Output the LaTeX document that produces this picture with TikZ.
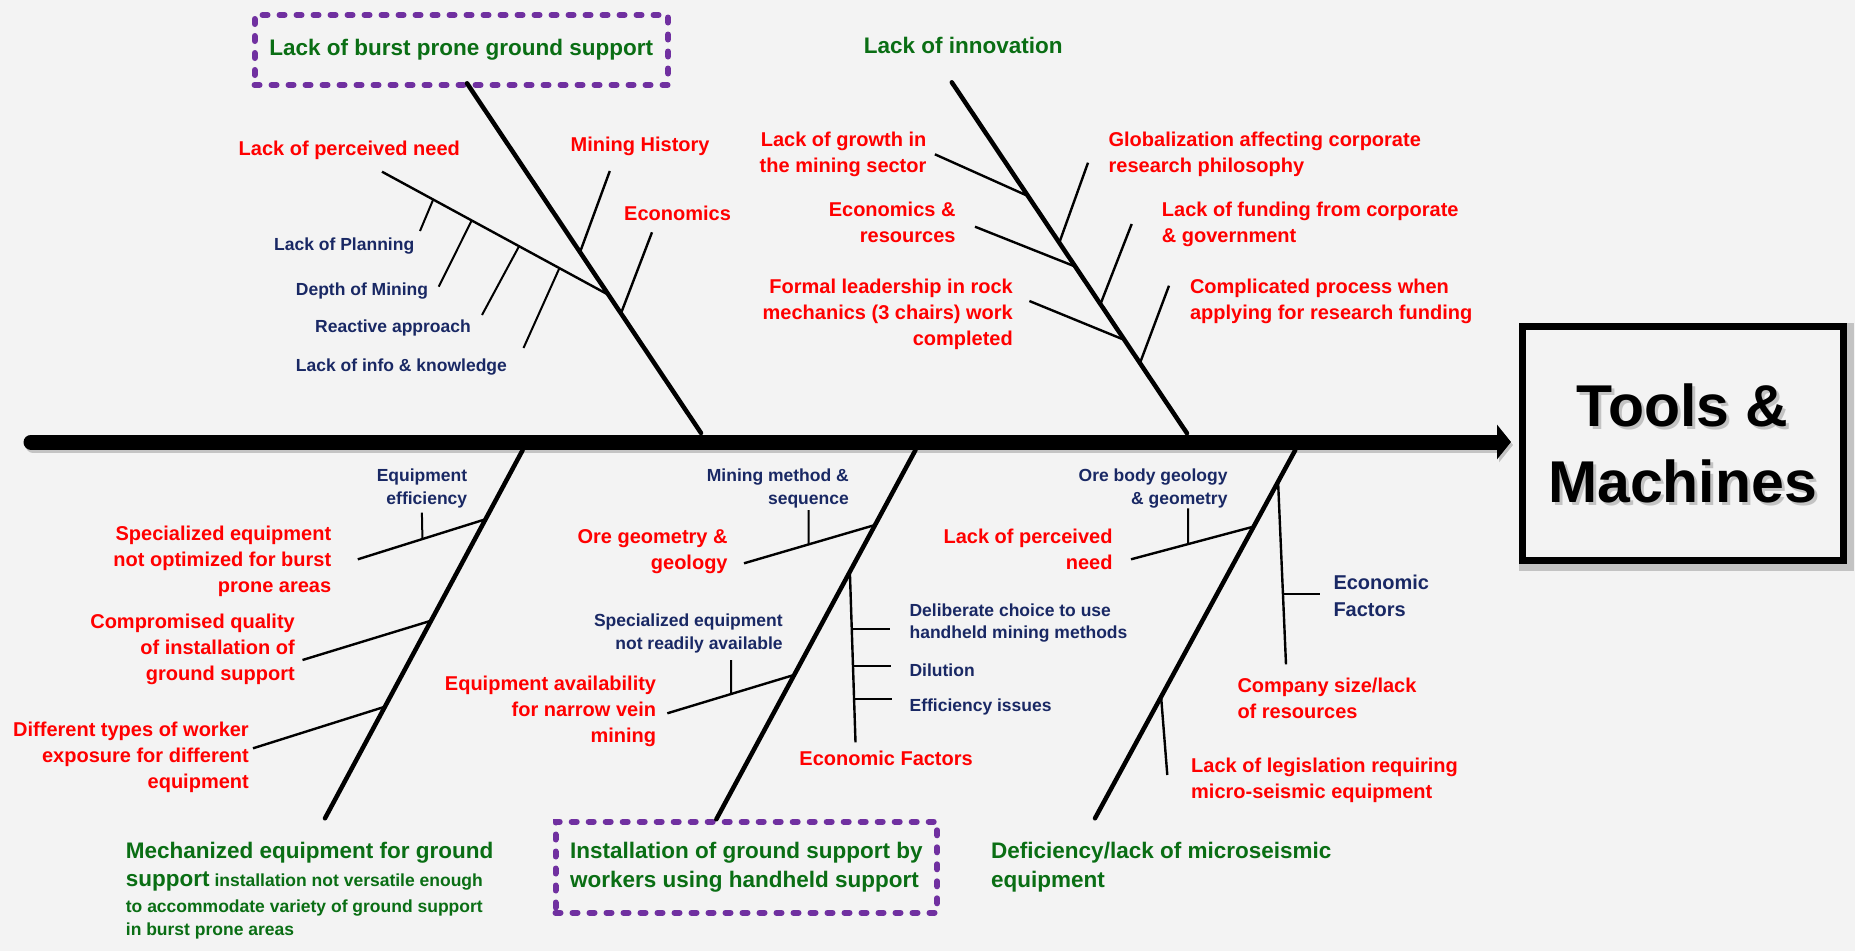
\documentclass[tikz,border=0pt]{standalone}
\usepackage{fontspec}
\setmainfont{Liberation Sans}
\usetikzlibrary{arrows.meta,calc}
\definecolor{bgc}{RGB}{243,243,243}
\definecolor{causered}{RGB}{255,0,0}
\definecolor{causegreen}{RGB}{10,110,20}
\definecolor{causenavy}{RGB}{25,40,100}
\definecolor{boxpurple}{RGB}{112,48,160}
\definecolor{shadowgray}{RGB}{195,195,195}
\pgfdeclarelayer{backdrop}
\pgfdeclarelayer{shade}
\pgfsetlayers{backdrop,shade,main}

\begin{document}
% multi-line labels are placed by the baseline of their last line
\begin{tikzpicture}[x=1pt,y=-1pt,
  redlbl/.style={text=causered, font=\fontsize{20}{26}\selectfont\bfseries, inner sep=0pt},
  navylbl/.style={text=causenavy, font=\fontsize{17.5}{22.3}\selectfont\bfseries, inner sep=0pt},
  navybig/.style={text=causenavy, font=\fontsize{20}{26.7}\selectfont\bfseries, inner sep=0pt},
  greenlbl/.style={text=causegreen, font=\fontsize{22.5}{29.3}\selectfont\bfseries, inner sep=0pt},
  rlbl/.style={align=right, anchor=base east},
  llbl/.style={align=left, anchor=base west},
  mainbone/.style={line width=4.5pt, line cap=round},
  subbone/.style={line width=2.4pt},
  twig/.style={line width=2pt},
  dashbox/.style={draw=boxpurple, line width=6pt, dash pattern=on 5pt off 12pt, line cap=round, inner sep=0pt},
  spine/.style={line width=15pt, line cap=round, -{Triangle[length=14pt,width=34pt]}},
  effectfont/.style={font=\fontsize{59}{76}\selectfont\bfseries, align=center},
]
\begin{pgfonlayer}{backdrop}
  \fill[bgc] (0,0) rectangle (1855,951);
\end{pgfonlayer}
\useasboundingbox (0,0) rectangle (1855,951);

% ---------- upper bone: ground support ----------
\node[dashbox, greenlbl, minimum width=413.5pt, minimum height=70pt] (head1) at (461.3,50) {Lack of burst prone ground support};
\coordinate (b1t) at (467,83.3);
\coordinate (b1b) at (701,433);
\draw[mainbone] (b1t) -- (b1b);

\node[redlbl, llbl] (lpn) at (238.5,155) {Lack of perceived need};
\coordinate (lpnS) at (382,171.7);
\coordinate (lpnE) at ($(b1t)!0.605!(b1b)$);
\draw[subbone] (lpnS) -- (lpnE);

\node[navylbl, llbl] (plan) at (274,250.7) {Lack of Planning};
\node[navylbl, llbl] (depth) at (295.7,295) {Depth of Mining};
\node[navylbl, llbl] (react) at (315,332.7) {Reactive approach};
\node[navylbl, llbl] (info) at (295.7,371.7) {Lack of info \& knowledge};
\coordinate (planT) at (420,231);
\coordinate (depthT) at (438.7,286.7);
\coordinate (reactT) at (482,315);
\coordinate (infoT) at (523.5,348);
\draw[twig] ($(lpnS)!0.226!(lpnE)$) -- (planT);
\draw[twig] ($(lpnS)!0.396!(lpnE)$) -- (depthT);
\draw[twig] ($(lpnS)!0.605!(lpnE)$) -- (reactT);
\draw[twig] ($(lpnS)!0.783!(lpnE)$) -- (infoT);

\node[redlbl, llbl] (hist) at (570.5,151.7) {Mining History};
\node[redlbl, llbl] (econ1) at (624,220.7) {Economics};
\coordinate (histT) at (609.8,171);
\coordinate (econ1T) at (652,232.3);
\draw[subbone] (histT) -- ($(b1t)!0.483!(b1b)$);
\draw[subbone] (econ1T) -- ($(b1t)!0.658!(b1b)$);

% ---------- upper bone: innovation ----------
\node[greenlbl, llbl] (head2) at (863.6,53.3) {Lack of innovation};
\coordinate (b2t) at (951.8,82.3);
\coordinate (b2b) at (1187,433.3);
\draw[mainbone] (b2t) -- (b2b);

\node[redlbl, rlbl] (growth) at (926.6,172.7) {Lack of growth in\\the mining sector};
\node[redlbl, rlbl] (econres) at (955.7,242.7) {Economics \&\\resources};
\node[redlbl, rlbl] (formal) at (1013,345.3) {Formal leadership in rock\\mechanics (3 chairs) work\\completed};
\coordinate (growthT) at (934.9,154.3);
\coordinate (econresT) at (975,226.7);
\coordinate (formalT) at (1029.4,301);
\draw[subbone] (growthT) -- ($(b2t)!0.324!(b2b)$);
\draw[subbone] (econresT) -- ($(b2t)!0.525!(b2b)$);
\draw[subbone] (formalT) -- ($(b2t)!0.734!(b2b)$);

\node[redlbl, llbl] (glob) at (1108.4,172.7) {Globalization affecting corporate\\research philosophy};
\node[redlbl, llbl] (fund) at (1161.7,242.7) {Lack of funding from corporate\\\& government};
\node[redlbl, llbl] (compl) at (1189.8,319.3) {Complicated process when\\applying for research funding};
\coordinate (globT) at (1088,162.7);
\coordinate (fundT) at (1131.7,224);
\coordinate (complT) at (1169,285.7);
\draw[subbone] (globT) -- ($(b2t)!0.457!(b2b)$);
\draw[subbone] (fundT) -- ($(b2t)!0.632!(b2b)$);
\draw[subbone] (complT) -- ($(b2t)!0.8!(b2b)$);

% ---------- lower bone: mechanized equipment ----------
\coordinate (b3t) at (522.7,450);
\coordinate (b3b) at (325,818.3);
\draw[mainbone] (b3t) -- (b3b);
\node[greenlbl, llbl, font=\fontsize{17.5}{23.4}\selectfont\bfseries] (head3) at (125.7,935.7)
  {{\fontsize{22.5}{28}\selectfont Mechanized equipment for ground}\\[5pt]{\fontsize{22.5}{28}\selectfont support} installation not versatile enough\\[2.2pt]to accommodate variety of ground support\\in burst prone areas};

\node[navylbl, rlbl] (eqeff) at (467.4,504) {Equipment\\efficiency};
\node[redlbl, rlbl] (specopt) at (331.4,592) {Specialized equipment\\not optimized for burst\\prone areas};
\node[redlbl, rlbl] (quality) at (295,680.3) {Compromised quality\\of installation of\\ground support};
\node[redlbl, rlbl] (expo) at (249,788.7) {Different types of worker\\exposure for different\\equipment};
\coordinate (specoptT) at (357.8,559.3);
\coordinate (specoptE) at ($(b3t)!0.188!(b3b)$);
\coordinate (qualityT) at (302.5,660);
\coordinate (expoT) at (253,748.3);
\coordinate (eqeffT) at (421.9,512.7);
\draw[subbone] (specoptT) -- (specoptE);
\draw[subbone] (qualityT) -- ($(b3t)!0.4635!(b3b)$);
\draw[subbone] (expoT) -- ($(b3t)!0.697!(b3b)$);
\draw[twig] ($(specoptT)!0.506!(specoptE)$) -- (eqeffT);

% ---------- lower bone: handheld installation ----------
\node[dashbox, greenlbl, align=left, minimum width=381.6pt, minimum height=91pt] (head4) at (746.3,867.2) {Installation of ground support by\\workers using handheld support};
\coordinate (b4t) at (915.5,450);
\coordinate (b4b) at (716.3,819.3);
\draw[mainbone] (b4t) -- (b4b);

\node[navylbl, rlbl] (method) at (849,504) {Mining method \&\\sequence};
\node[redlbl, rlbl] (oregeo) at (727.8,569.3) {Ore geometry \&\\geology};
\coordinate (oregeoT) at (744,563.3);
\coordinate (oregeoE) at ($(b4t)!0.203!(b4b)$);
\coordinate (methodT) at (808.6,510);
\draw[subbone] (oregeoT) -- (oregeoE);
\draw[twig] ($(oregeoT)!0.493!(oregeoE)$) -- (methodT);

\node[navylbl, rlbl] (notavail) at (782.9,649) {Specialized equipment\\not readily available};
\node[redlbl, rlbl] (narrow) at (656.3,742) {Equipment availability\\for narrow vein\\mining};
\coordinate (narrowT) at (667.3,713.3);
\coordinate (narrowE) at ($(b4t)!0.609!(b4b)$);
\coordinate (notavailT) at (731,660);
\draw[subbone] (narrowT) -- (narrowE);
\draw[twig] ($(narrowT)!0.502!(narrowE)$) -- (notavailT);

\node[redlbl, llbl] (econfac1) at (799.2,765) {Economic Factors};
\node[navylbl, llbl] (choice) at (909.4,638.3) {Deliberate choice to use\\handheld mining methods};
\node[navylbl, llbl] (dilution) at (909.4,676) {Dilution};
\node[navylbl, llbl] (effic) at (909.4,711.7) {Efficiency issues};
\coordinate (ecS) at ($(b4t)!0.3295!(b4b)$);
\coordinate (ecE) at (855.5,742.3);
\draw[subbone] (ecS) -- (ecE);
\draw[twig] ($(ecS)!0.336!(ecE)$) -- +(38,0);
\draw[twig] ($(ecS)!0.553!(ecE)$) -- +(38,0);
\draw[twig] ($(ecS)!0.744!(ecE)$) -- +(38,0);

% ---------- lower bone: microseismic equipment ----------
\node[greenlbl, llbl] (head5) at (991,887.6) {Deficiency/lack of microseismic\\equipment};
\coordinate (b5t) at (1295.3,450);
\coordinate (b5b) at (1095,818.3);
\draw[mainbone] (b5t) -- (b5b);

\node[navylbl, rlbl] (orebody) at (1227.7,504) {Ore body geology\\\& geometry};
\node[redlbl, rlbl] (lpn2) at (1112.7,569.3) {Lack of perceived\\need};
\coordinate (lpn2T) at (1131,559.3);
\coordinate (lpn2E) at ($(b5t)!0.208!(b5b)$);
\coordinate (orebodyT) at (1188,508.3);
\draw[subbone] (lpn2T) -- (lpn2E);
\draw[twig] ($(lpn2T)!0.465!(lpn2E)$) -- (orebodyT);

\node[navybig, llbl] (econfac2) at (1333.3,616) {Economic\\Factors};
\node[redlbl, llbl] (size) at (1237.3,718.7) {Company size/lack\\of resources};
\coordinate (sizeS) at ($(b5t)!0.086!(b5b)$);
\coordinate (sizeT) at (1286,664.3);
\draw[subbone] (sizeS) -- (sizeT);
\draw[twig] ($(sizeS)!0.615!(sizeT)$) -- +(37,0);

\node[redlbl, llbl] (legis) at (1191,798.7) {Lack of legislation requiring\\micro-seismic equipment};
\coordinate (legisT) at (1167.3,775);
\draw[subbone] ($(b5t)!0.67!(b5b)$) -- (legisT);

% ---------- spine and effect ----------
\coordinate (spL) at (31,442);
\coordinate (spR) at (1511,442);
\node[draw, line width=7pt, minimum width=321pt, minimum height=234pt, effectfont] (effect) at (1682.5,443) {Tools \&\\Machines};
\begin{pgfonlayer}{shade}
  \draw[shadowgray, spine] ($(spL)+(2,3)$) -- ($(spR)+(2,3)$);
  \draw[shadowgray, line width=7pt] ($(effect.south west)+(4,4)$) rectangle ($(effect.north east)+(4,4)$);
  \node[effectfont, text=shadowgray] (effectshade) at ($(effect.center)+(3,3)$) {Tools \&\\Machines};
\end{pgfonlayer}
\draw[spine] (spL) -- (spR);
\end{tikzpicture}
\end{document}
